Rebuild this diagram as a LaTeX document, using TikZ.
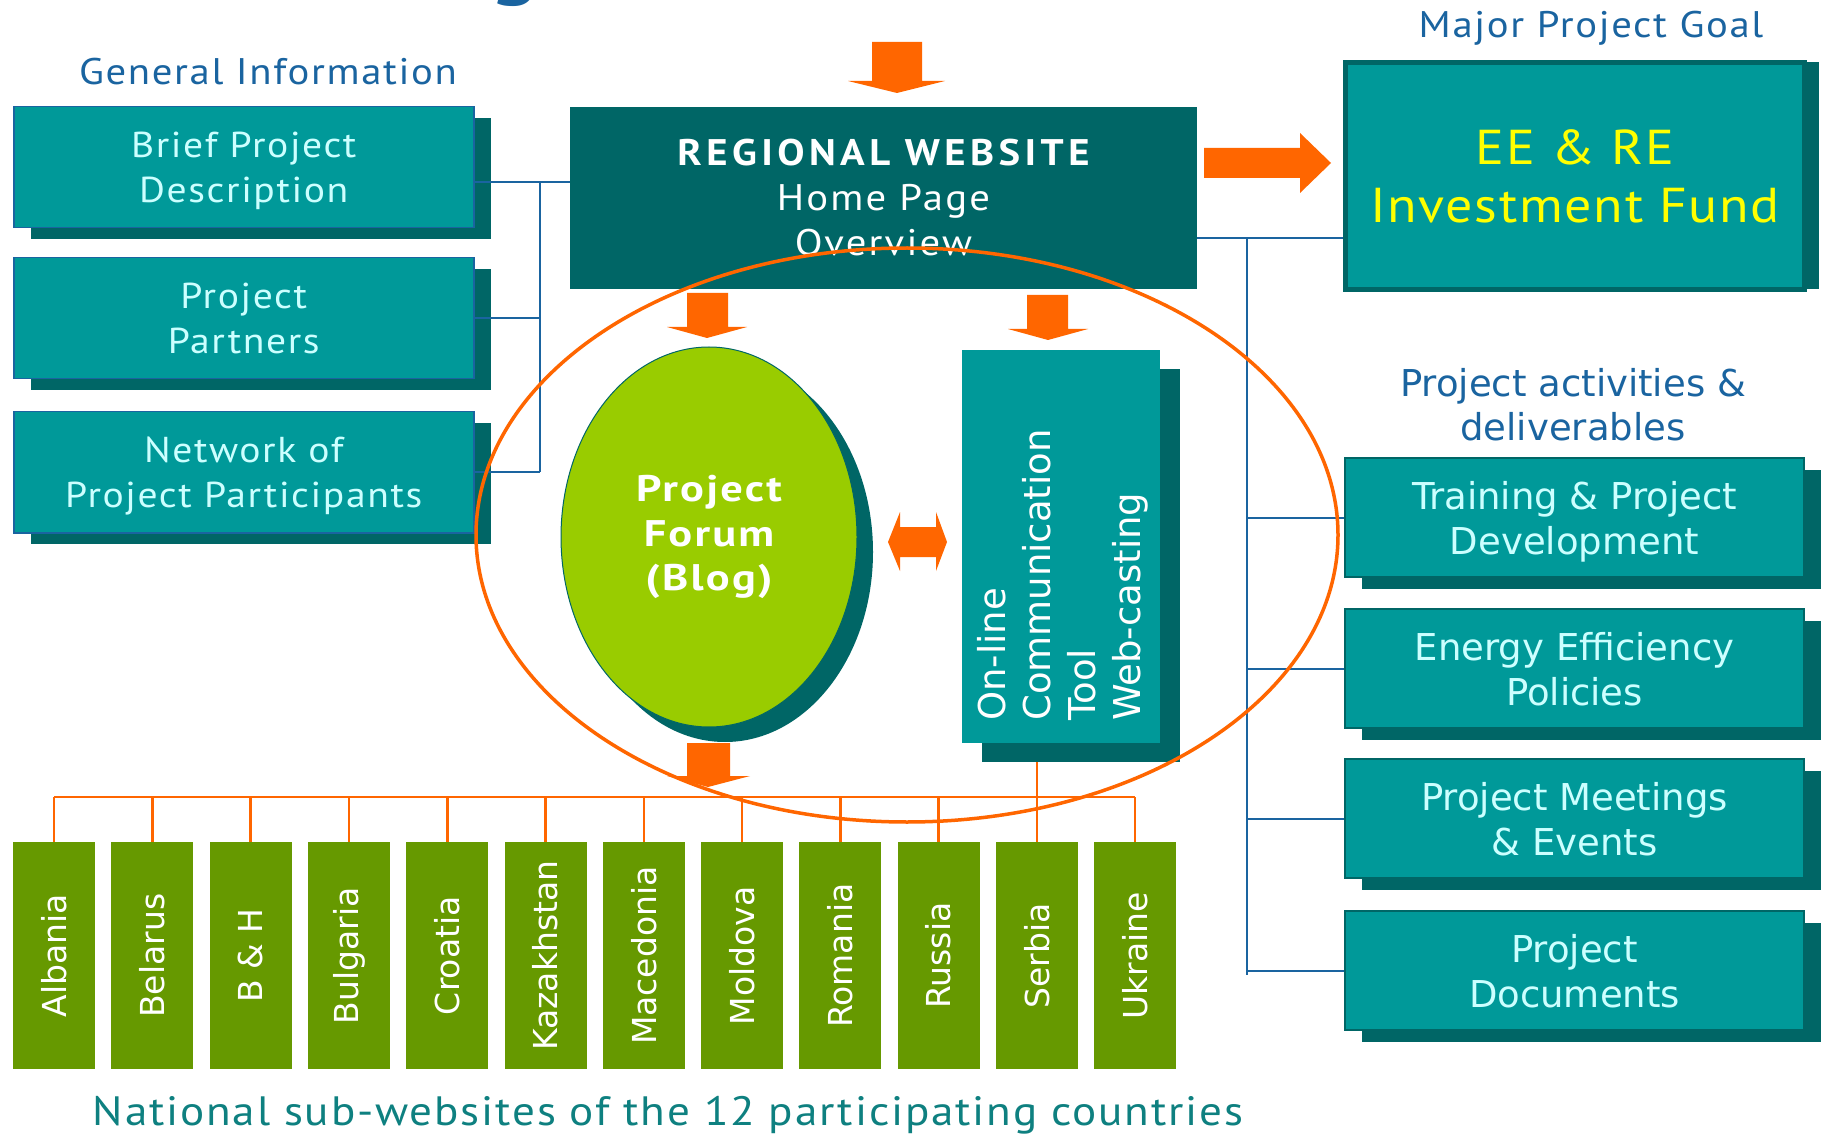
\documentclass[tikz,border=0pt]{standalone}
\usepackage{fontspec}
\setmainfont{PT Sans}
\newfontfamily\sps[FakeStretch=1.1,LetterSpace=4.5]{PT Sans}
\newfontfamily\vfont{DejaVu Sans}
\usepackage{graphicx}
\usetikzlibrary{shapes.geometric,shadows}
\definecolor{tealA}{HTML}{009999}
\definecolor{dteal}{HTML}{006666}
\definecolor{lcyan}{HTML}{CCFFFF}
\definecolor{orng}{HTML}{FF6600}
\definecolor{lblue}{HTML}{1A64A0}
\definecolor{lgreen}{HTML}{99CC00}
\definecolor{dgreen}{HTML}{669900}
\definecolor{ttext}{HTML}{0E8080}
\definecolor{yel}{HTML}{FFFF00}
\begin{document}
\begin{tikzpicture}[x=1pt,y=-1pt,
  blueline/.style={draw=lblue, line width=2pt},
  orline/.style={draw=orng, line width=2.5pt},
  orfill/.style={fill=orng},
  heading/.style={text=lblue, inner sep=0pt},
  lbox/.style={draw=lblue, line width=1.5pt, fill=tealA, text=lcyan, minimum width=460, minimum height=121,
    anchor=north west, inner sep=0pt, align=center, font=\sps\fontsize{36}{45}\selectfont,
    text depth=-4pt,
    drop shadow={shadow xshift=17pt, shadow yshift=-11pt, fill=dteal, opacity=1}},
  rbox/.style={draw=dteal, line width=2pt, fill=tealA, text=lcyan, minimum width=459, minimum height=119,
    anchor=north west, inner sep=0pt, align=center, font=\vfont\fontsize{37}{45}\selectfont,
    text depth=-4pt,
    drop shadow={shadow xshift=17pt, shadow yshift=-12pt, fill=dteal, opacity=1}},
  cbox/.style={fill=dgreen, text=white, minimum width=82, minimum height=227, inner sep=0pt,
    anchor=north west, font=\vfont\fontsize{33}{33}\selectfont}
]
\useasboundingbox (0,0) rectangle (1826,1139);
\fill[white] (0,0) rectangle (1826,1139);

% cut-off title fragment
\begin{scope}
\clip (0,0) rectangle (1826,1139);
\node[anchor=base, text=lblue, inner sep=0pt, font=\bfseries\fontsize{90}{90}\selectfont] (ttl) at (515,-12) {g};
\end{scope}

% headings
\node[heading, anchor=base, font=\sps\fontsize{37}{44}\selectfont] (hgen) at (268,85) {General Information};
\node[heading, anchor=base, font=\sps\fontsize{37}{44}\selectfont] (hgoal) at (1591,38) {Major Project Goal};
\node[heading, align=center, font=\vfont\fontsize{37}{44}\selectfont] (hact) at (1573,405) {Project activities \&\\deliverables};
\node[anchor=base, text=ttext, inner sep=0pt, font=\sps\fontsize{41}{44}\selectfont] (hnat) at (668,1125) {National sub-websites of the 12 participating countries};

% left boxes
\node[lbox] (brief) at (13,106) {Brief Project\\Description};
\node[lbox] (partners) at (13,257) {Project\\Partners};
\node[lbox] (network) at (13,411) {Network of\\Project Participants};

% regional website
\node[fill=dteal, minimum width=627, minimum height=182, inner sep=0pt, text=white, align=center,
  font=\sps\fontsize{37}{45}\selectfont] (reg) at (883.5,198)
  {{\bfseries\addfontfeature{LetterSpace=12}REGIONAL WEBSITE}\\{\addfontfeature{LetterSpace=6}Home Page}\\{\addfontfeature{LetterSpace=6}Overview}};

% EE & RE box
\node[draw=dteal, line width=5pt, fill=tealA, minimum width=459, minimum height=227, inner sep=0pt,
  text=yel, align=center, font=\sps\fontsize{49}{58}\selectfont\addfontfeature{LetterSpace=3.5},
  drop shadow={shadow xshift=14pt, shadow yshift=0pt, fill=dteal, opacity=1}] (ee) at (1575,176)
  {EE \& RE\\Investment Fund};

% right boxes
\node[rbox] (r1) at (1344,457) {Training \& Project\\Development};
\node[rbox] (r2) at (1344,608) {Energy Efficiency\\Policies};
\node[rbox] (r3) at (1344,758) {Project Meetings\\\& Events};
\node[rbox] (r4) at (1344,910) {Project\\Documents};

% connectors (blue)
\coordinate (jl) at (540,182);
\coordinate (jr) at (1247,238);
\coordinate (jrend) at (1247,975);
\draw[blueline] (brief.east |- jl) -- (reg.west |- jl);
\draw[blueline] (partners.east) -- (partners.east -| jl);
\draw[blueline] (network.east) -- (network.east -| jl);
\draw[blueline] (jl) -- (jl |- network.east);
\draw[blueline] (reg.east |- jr) -- (ee.west |- jr);
\draw[blueline] (jr) -- (jrend);
\foreach \r in {r1,r2,r3,r4} \draw[blueline] (jr |- \r.west) -- (\r.west);

% forum ellipse
\node[ellipse, minimum width=296, minimum height=380, fill=lgreen, draw=dteal, line width=1pt, inner sep=0pt,
  text=white, align=center, font=\sps\bfseries\fontsize{37}{44.5}\selectfont\addfontfeature{FakeStretch=1.2,LetterSpace=6},
  drop shadow={shadow xshift=16pt, shadow yshift=-15pt, fill=dteal, opacity=1}] (forum) at (709,537)
  {Project\\Forum\\(Blog)};

% communication box
\node[fill=tealA, minimum width=198, minimum height=393, inner sep=0pt, anchor=north west,
  drop shadow={shadow xshift=20pt, shadow yshift=-19pt, fill=dteal, opacity=1}] (comm) at (962,350) {};
\node[rotate=90, anchor=west, inner sep=0pt, align=left, text=white, font=\vfont\fontsize{37}{45}\selectfont] (commtxt)
  at (1062.5,721) {On-line\\Communication\\Tool\\Web-casting};
\coordinate (commsh) at (1040,762);

% country boxes
\coordinate (bus) at (0,797);
\foreach \n [count=\i from 0] in {Albania,Belarus,B \& H,Bulgaria,Croatia,Kazakhstan,Macedonia,Moldova,Romania,Russia,Serbia,Ukraine}{
  \pgfmathsetmacro\cx{13+98.27*\i}
  \node[cbox] (c\i) at (\cx,842) {\rotatebox{90}{\n}};
  \draw[orline] (c\i.north |- bus) -- (c\i.north);
}
\draw[orline] (c0.north |- bus) -- (c11.north |- bus);
\draw[orline] (c10.north) -- (c10.north |- commsh);

% block arrows
\fill[orfill] (872,42) -- (922,42) -- (922,81) -- (945,81) -- (897,93) -- (848,81) -- (872,81) -- cycle;
\fill[orfill] (1204,148) -- (1300,148) -- (1300,133) -- (1331,163) -- (1300,193) -- (1300,178) -- (1204,178) -- cycle;
\fill[orfill] (687,293) -- (728,293) -- (728,327) -- (747,327) -- (707,338) -- (667,327) -- (687,327) -- cycle;
\fill[orfill] (1027,295) -- (1068,295) -- (1068,329) -- (1088,329) -- (1048,340) -- (1008,329) -- (1027,329) -- cycle;
\fill[orfill] (687,743) -- (730,743) -- (730,776) -- (750,776) -- (708,787) -- (667,776) -- (687,776) -- cycle;
\fill[orfill] (888,542) -- (900,512) -- (900,527) -- (936,527) -- (936,512) -- (947,542) -- (936,571) -- (936,557) -- (900,557) -- (900,571) -- cycle;

% big orange ellipse
\draw[draw=orng, line width=3.5pt] (907,535) ellipse [x radius=431, y radius=287];
\end{tikzpicture}
\end{document}
